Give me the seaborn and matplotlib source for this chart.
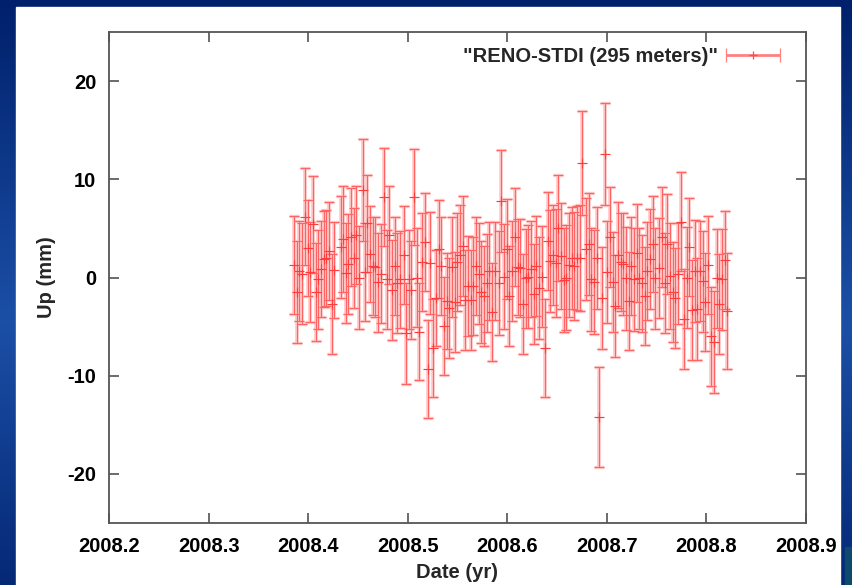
import numpy as np
import matplotlib
matplotlib.use("Agg")
import matplotlib.pyplot as plt
from matplotlib.patches import Rectangle
from matplotlib.legend_handler import HandlerErrorbar
import seaborn as sns

# daily GPS solutions (decimal year, up in mm, sigma in mm)
dates = [
    2008.3859, 2008.3886, 2008.3913, 2008.3940, 2008.3970, 2008.3997, 2008.4023, 2008.4050,
    2008.4077, 2008.4104, 2008.4131, 2008.4158, 2008.4184, 2008.4211, 2008.4238, 2008.4264,
    2008.4325, 2008.4352, 2008.4379, 2008.4405, 2008.4432, 2008.4459, 2008.4485, 2008.4513,
    2008.4546, 2008.4573, 2008.4596, 2008.4623, 2008.4650, 2008.4676, 2008.4704, 2008.4731,
    2008.4764, 2008.4791, 2008.4817, 2008.4844, 2008.4871, 2008.4897, 2008.4925, 2008.4958,
    2008.4985, 2008.5012, 2008.5038, 2008.5065, 2008.5092, 2008.5118, 2008.5146, 2008.5173,
    2008.5199, 2008.5226, 2008.5253,
    2008.5286, 2008.5310, 2008.5337, 2008.5364, 2008.5390, 2008.5417, 2008.5444, 2008.5470,
    2008.5497, 2008.5525, 2008.5551, 2008.5578, 2008.5605, 2008.5631, 2008.5658, 2008.5685,
    2008.5712, 2008.5739, 2008.5766, 2008.5792, 2008.5819, 2008.5846, 2008.5872, 2008.5912,
    2008.5940, 2008.5967, 2008.5993, 2008.6020,
    2008.6047, 2008.6077, 2008.6103, 2008.6131, 2008.6158, 2008.6184, 2008.6211, 2008.6238,
    2008.6264, 2008.6291, 2008.6319, 2008.6345, 2008.6379, 2008.6405, 2008.6432, 2008.6459,
    2008.6485, 2008.6513, 2008.6540, 2008.6566, 2008.6593, 2008.6620, 2008.6646, 2008.6673,
    2008.6700, 2008.6727, 2008.6754,
    2008.6791, 2008.6817, 2008.6844, 2008.6871, 2008.6897, 2008.6925, 2008.6952, 2008.6978,
    2008.7005, 2008.7032, 2008.7058, 2008.7085, 2008.7113, 2008.7139, 2008.7166, 2008.7193,
    2008.7219, 2008.7246, 2008.7273, 2008.7300, 2008.7327, 2008.7354, 2008.7380, 2008.7407,
    2008.7434, 2008.7460, 2008.7487,
    2008.7528, 2008.7555, 2008.7581, 2008.7608, 2008.7635, 2008.7661, 2008.7688, 2008.7716,
    2008.7749, 2008.7776, 2008.7802, 2008.7829, 2008.7856, 2008.7882, 2008.7910, 2008.7937,
    2008.7963, 2008.7990, 2008.8017, 2008.8050, 2008.8077, 2008.8103, 2008.8131, 2008.8158,
    2008.8184, 2008.8211,
]
up_mm = [
    1.25, -1.5, 0.7, 0.4, 6.2, 3.0, 0.6, 5.4,
    -1.5, -0.2, 0.9, 1.9, 2.0, 2.7, -2.7, 0.8,
    3.1, 3.9, 0.5, 1.4, 4.1, 2.0, 4.3, 0.0,
    8.9, 0.6, 5.5, 2.4, 1.2, 1.1, -0.5, 0.4,
    8.2, -0.2, 4.3, -1.3, 1.2, -0.6, -0.2, 2.3,
    -5.7, -0.2, -1.3, 8.2, 0.0, -5.5, 1.6, 3.6,
    -9.3, 1.5, -7.2,
    -2.1, 2.9, 1.2, -4.9, -2.4, -3.1, 1.1, -2.5,
    1.6, 2.3, 3.2, -2.3, -0.9, -2.3, -0.9, 1.2,
    0.4, -1.5, -1.9, -0.6, 0.7, -3.5, 0.7, -0.6,
    7.8, 0.1, 2.9, -1.9,
    0.7, 4.1, 1.1, 1.0, -2.7, -0.1, 0.1, 0.9,
    -1.7, 1.2, -1.1, 0.1, -7.2, 3.7, 1.7, 2.3,
    1.5, 5.0, 2.2, -0.3, 0.0, 1.3, 2.0, 1.2,
    2.0, 2.0, 11.7,
    2.9, 3.4, -0.2, -0.5, 2.0, -14.2, -2.1, 12.6,
    0.6, 4.1, -0.5, -2.9, 2.3, 1.6, 1.4, -0.1,
    -2.4, 1.2, -0.2, 2.5, -0.1, -0.6, -1.9, 0.7,
    1.9, 3.4, -0.1,
    0.95, 4.1, -0.6, 3.4, 0.2, -1.5, -2.1, 0.4,
    5.7, -4.2, 0.0, 3.1, -3.3, 0.7, -3.2, 0.7,
    -0.4, -2.5, 1.3, -6.0, -6.6, -0.1, -2.7, -0.2,
    1.8, -3.4,
]
sigma_mm = [
    5.0, 5.2, 5.1, 5.1, 4.9, 4.9, 5.1, 4.9,
    5.0, 5.0, 4.9, 4.9, 4.9, 5.0, 5.1, 4.9,
    5.2, 5.4, 5.1, 5.1, 5.0, 5.1, 5.0, 5.2,
    5.2, 5.0, 4.9, 4.9, 5.0, 5.1, 5.0, 5.0,
    5.0, 5.0, 5.0, 5.1, 5.0, 5.1, 4.9, 5.0,
    5.1, 5.0, 5.0, 4.9, 5.0, 4.9, 5.0, 5.0,
    5.0, 5.2, 5.0,
    4.9, 5.0, 5.0, 5.0, 4.9, 5.1, 5.1, 5.1,
    5.0, 5.1, 5.1, 5.1, 5.1, 5.1, 5.0, 5.0,
    5.1, 5.2, 5.1, 5.0, 5.0, 5.0, 5.0, 5.3,
    5.2, 5.3, 5.1, 5.1,
    5.1, 5.0, 4.9, 5.0, 5.1, 5.0, 5.2, 4.9,
    5.1, 5.1, 5.2, 5.1, 5.0, 5.0, 5.2, 5.1,
    5.5, 5.4, 5.4, 5.3, 5.3, 5.3, 5.2, 5.5,
    5.3, 5.4, 5.3,
    5.2, 5.2, 5.2, 5.3, 5.2, 5.1, 5.2, 5.2,
    5.2, 5.1, 5.1, 5.2, 5.4, 5.0, 5.2, 5.2,
    5.0, 5.0, 5.2, 5.0, 5.1, 4.9, 5.0, 5.0,
    5.1, 4.9, 5.1,
    5.1, 5.1, 5.1, 5.1, 5.4, 5.1, 5.1, 5.1,
    5.0, 5.1, 5.1, 5.0, 5.1, 5.2, 5.2, 5.1,
    5.1, 5.0, 5.0, 5.0, 5.2, 5.0, 5.1, 5.1,
    5.0, 5.9,
]

x_ticks = [2008.2, 2008.3, 2008.4, 2008.5, 2008.6, 2008.7, 2008.8, 2008.9]
y_ticks = [-20, -10, 0, 10, 20]
series_label = '"RENO-STDI (295 meters)"'

sns.set_theme(style="ticks")
plt.rcParams['font.family'] = ['Liberation Sans', 'DejaVu Sans']
plt.rcParams['font.weight'] = 'bold'
plt.rcParams['axes.unicode_minus'] = False

W, H = 853, 585
fig = plt.figure(figsize=(W / 100, H / 100), dpi=100)

# slide background: blue gradient with a white card
bg = fig.add_axes([0, 0, 1, 1], zorder=-10)
grad = np.linspace(0, 1, 256)
grad = 1 - np.abs(grad - 0.55) * 1.6
bg.imshow(grad.reshape(-1, 1), aspect='auto', cmap=sns.blend_palette(['#00206b', '#1b4fa6'], as_cmap=True),
          extent=[0, W, H, 0])
bg.add_patch(Rectangle((16, 7), 824, H, color='white'))
bg.add_patch(Rectangle((845, 547), 10, 40, color='#0e4a6e'))
bg.set_xlim(0, W)
bg.set_ylim(H, 0)
bg.axis('off')

ax = fig.add_axes([109 / W, 1 - 523 / H, (806 - 109) / W, (523 - 32) / H])
ax.set_facecolor('white')

# pale halo then a thin red core, like the anti-aliased gnuplot bars
ax.errorbar(dates, up_mm, yerr=sigma_mm, fmt='none', ecolor='#ffc6c6',
            elinewidth=2.6, capsize=3.5, capthick=2.4, zorder=2)
ax.errorbar(dates, up_mm, yerr=sigma_mm, fmt='none', ecolor='#ff6464',
            elinewidth=0.8, capsize=3.5, capthick=0.8, zorder=2.2)
# the "+" at each daily value
sns.lineplot(x=dates, y=up_mm, color='#ff3c3c', marker='+', linestyle='',
             markersize=6.5, markeredgewidth=0.85, markeredgecolor='#ff3c3c',
             errorbar=None, ax=ax, zorder=3)

# legend sample in gnuplot errorbar style
h = ax.errorbar([np.nan], [np.nan], xerr=[1], fmt='+', color='#ff4a4a', ecolor='#ff8080',
                markersize=6, mew=0.9, elinewidth=2.0, capsize=5, capthick=1.4)
ax.legend([h], [series_label], loc='upper right', frameon=False, markerfirst=False,
          handlelength=2.8, handletextpad=0.35, borderaxespad=0.35,
          handler_map={type(h): HandlerErrorbar(xerr_size=1.35)},
          prop=dict(weight='bold', size=14.5), bbox_to_anchor=(0.986, 1.0))

ax.set_xlim(2008.2, 2008.9)
ax.set_ylim(-25, 25)
ax.set_xticks(x_ticks)
ax.set_xticklabels([f"{t:.1f}" for t in x_ticks])
ax.set_yticks(y_ticks)
ax.tick_params(direction='in', length=7, width=1.1, color='#444444', top=True, right=True,
               labelsize=14.5, labelcolor='black')
ax.tick_params(axis='x', pad=10)
ax.tick_params(axis='y', pad=9)
for s in ax.spines.values():
    s.set_color('#555555')
    s.set_linewidth(1.3)

ax.set_xlabel('Date (yr)', fontsize=14.5, fontweight='bold', labelpad=5)
ax.set_ylabel('Up (mm)', fontsize=14.5, fontweight='bold', labelpad=8)

fig.savefig('out.png', dpi=100)
